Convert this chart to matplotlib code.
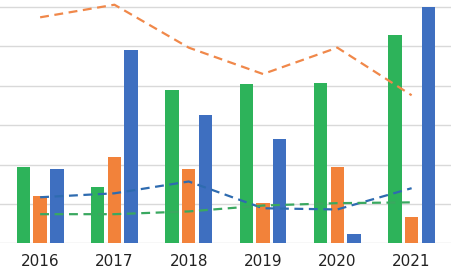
import matplotlib
matplotlib.use("Agg")
import matplotlib.pyplot as plt
import numpy as np

years = ["2016", "2017", "2018", "2019", "2020", "2021"]
green_bars = [19.5, 14.2, 39.0, 40.4, 40.7, 53.0]
orange_bars = [12.0, 22.0, 19.0, 10.2, 19.4, 6.6]
blue_bars = [18.8, 49.0, 32.7, 26.4, 2.3, 60.0]
orange_line = [57.4, 60.6, 49.7, 43.0, 49.7, 37.6]
blue_line = [11.7, 12.7, 15.7, 8.9, 8.6, 14.0]
green_line = [7.4, 7.4, 8.1, 9.6, 10.2, 10.4]

c_green = "#2db35a"
c_orange = "#f2823a"
c_blue = "#3e6fc0"

fig = plt.figure(figsize=(4.51, 2.69), dpi=100)
ax = fig.add_axes([0, 0.0955, 1, 0.9045])
x = np.arange(len(years))
w = 0.18
off = 0.225
ax.bar(x - off, green_bars, w, color=c_green, zorder=2)
ax.bar(x, orange_bars, w, color=c_orange, zorder=2)
ax.bar(x + off, blue_bars, w, color=c_blue, zorder=2)

ls = (0, (4, 2.5))
ax.plot(x, orange_line, color="#f0884a", lw=1.6, linestyle=ls, zorder=3)
ax.plot(x, blue_line, color="#2e6bb0", lw=1.6, linestyle=ls, zorder=3)
ax.plot(x, green_line, color="#3aa860", lw=1.6, linestyle=ls, zorder=3)

ax.set_xlim(-0.54, 5.53)
ax.set_ylim(0, 61.8)
ax.set_yticks(np.arange(0, 61, 10))
ax.yaxis.grid(True, color="#d9d9d9", lw=1)
ax.set_axisbelow(True)
ax.tick_params(axis="y", left=False, labelleft=False)
ax.tick_params(axis="x", bottom=False, labelsize=11, pad=4, colors="#222222")
ax.set_xticks(x)
ax.set_xticklabels(years)
for s in ax.spines.values():
    s.set_visible(False)

fig.savefig("out.png", dpi=100)
